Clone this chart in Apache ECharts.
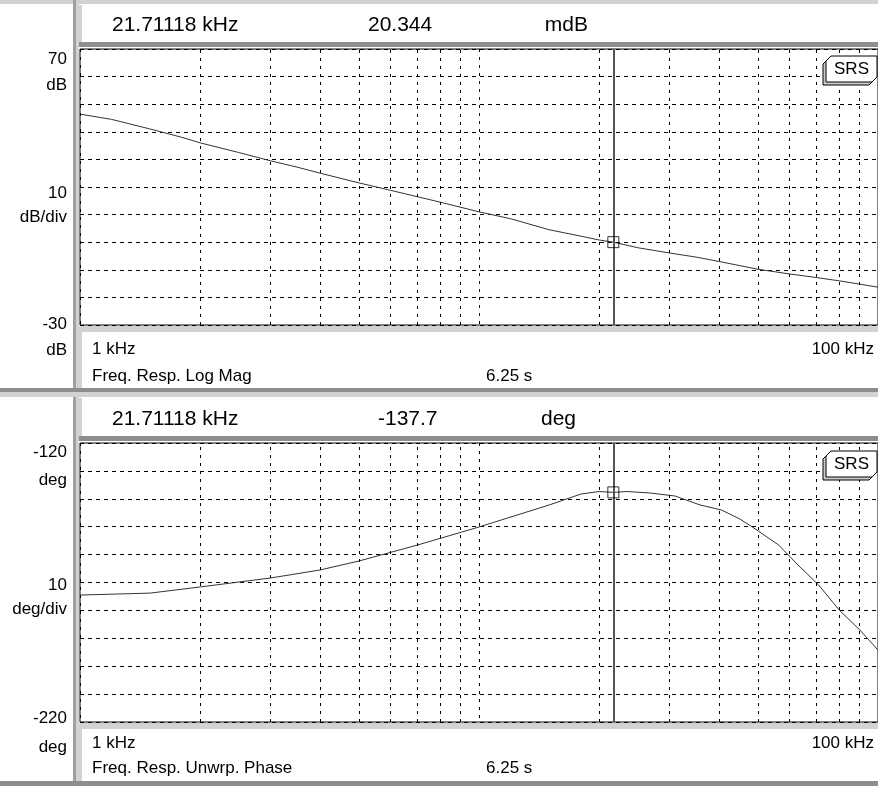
<!DOCTYPE html>
<html>
<head>
<meta charset="utf-8">
<script src="https://cdn.jsdelivr.net/npm/echarts@6/dist/echarts.min.js"></script>
<style>
html, body { margin: 0; padding: 0; background: #fff; }
#chart { width: 878px; height: 786px; }
</style>
</head>
<body>
<div id="chart"></div>
<script>
// magnitude trace (kHz, dB)
var magFreq = [1, 1.2, 1.5, 1.8, 2, 2.5, 3, 3.5, 4, 5, 6, 7, 8, 10, 12, 15, 18, 20, 21.71118, 25, 30, 35, 40, 50, 60, 70, 80, 90, 100]
var magDb = [46.4, 44.5, 41.0, 38.0, 36.0, 32.5, 29.5, 27.2, 25.0, 21.5, 18.8, 16.5, 14.5, 11.0, 8.5, 4.5, 2.2, 0.8, 0.020344, -2.0, -3.9, -5.4, -7.0, -9.8, -11.5, -12.8, -14.0, -15.2, -16.3]

// unwrapped phase trace (kHz, deg)
var phaseFreq = [1, 1.5, 2, 3, 4, 5, 7, 10, 15, 18, 20, 21.71118, 23.5, 26.8, 31, 35.8, 40.5, 45, 48.9, 56.4, 63, 71, 80, 90, 100]
var phaseDeg = [-174.5, -173.8, -171.6, -168.4, -165.5, -162.3, -156.6, -150.1, -142.2, -138.3, -137.4, -137.7, -137.4, -137.9, -139.0, -142.2, -144.0, -147.2, -150.5, -156.6, -163.7, -170.9, -179.9, -187.0, -194.2]

// log grid lines between decades
var minorFreq = [2, 3, 4, 5, 6, 7, 8, 9, 20, 30, 40, 50, 60, 70, 80, 90]

var cursorFreq = 21.71118
var cursorMag = 0.020344
var cursorPhase = -137.7

var FONT = 'Liberation Sans, Arial, sans-serif'

function pairs(xs, ys) {
  return xs.map(function (x, i) { return [x, ys[i]] })
}

function gridMarks() {
  var list = minorFreq.map(function (f) {
    return { xAxis: f }
  })
  list.push({ xAxis: cursorFreq, lineStyle: { type: 'solid', color: '#555', width: 2 } })
  return {
    silent: true,
    symbol: 'none',
    animation: false,
    label: { show: false },
    lineStyle: { type: [3, 5], color: '#000', width: 1 },
    data: list
  }
}

function xAxisOf(idx) {
  return {
    gridIndex: idx,
    type: 'log',
    logBase: 10,
    min: 1,
    max: 100,
    axisLine: { show: false },
    axisTick: { show: false },
    axisLabel: { show: false },
    splitLine: { show: true, lineStyle: { type: [3, 5], color: '#000', width: 1 } }
  }
}

function yAxisOf(idx, min, max) {
  return {
    gridIndex: idx,
    type: 'value',
    min: min,
    max: max,
    interval: 10,
    axisLine: { show: false },
    axisTick: { show: false },
    axisLabel: { show: false },
    splitLine: { show: true, lineStyle: { type: [4, 4], color: '#000', width: 1 } }
  }
}

function txt(x, y, s, size, align) {
  return {
    type: 'text',
    x: x,
    y: y,
    z: 10,
    style: {
      text: s,
      font: size + 'px ' + FONT,
      fill: '#000',
      align: align || 'left',
      textAlign: align || 'left',
      verticalAlign: 'middle',
      textVerticalAlign: 'middle'
    }
  }
}

function box(x, y, w, h, color) {
  return { type: 'rect', z: 5, shape: { x: x, y: y, width: w, height: h }, style: { fill: color } }
}

function logo(top) {
  var l = 826, r = 877, b = top + 26, c = 5
  var pts = [[l + c, top], [r, top], [r, b - c], [r - c, b], [l, b], [l, top + c]]
  var shadow = pts.map(function (p) { return [p[0] - 3, p[1] + 3] })
  return [
    { type: 'polygon', z: 20, shape: { points: shadow }, style: { fill: '#ccc', stroke: '#000', lineWidth: 1 } },
    { type: 'polygon', z: 21, shape: { points: pts }, style: { fill: '#fff', stroke: '#000', lineWidth: 1 } },
    { type: 'text', z: 22, x: (l + r) / 2, y: top + 13, style: { text: 'SRS', font: '17px ' + FONT, fill: '#000', align: 'center', textAlign: 'center', verticalAlign: 'middle', textVerticalAlign: 'middle' } }
  ]
}

var LIGHT = '#d2d2d2'
var DARK = '#8e8e8e'

var frame = [
  // outer bevels
  box(0, 0, 878, 4, LIGHT),
  box(73, 0, 3, 786, '#a0a0a0'),
  box(76, 0, 3, 786, LIGHT),
  // top panel header / footer
  box(79, 5, 3, 38, LIGHT),
  box(79, 42, 799, 5, DARK),
  box(79, 326, 799, 6, LIGHT),
  box(79, 332, 3, 56, LIGHT),
  // panel separator
  box(0, 388, 878, 4, DARK),
  box(0, 392, 878, 5, LIGHT),
  // bottom panel header / footer
  box(79, 398, 3, 38, LIGHT),
  box(79, 436, 799, 5, DARK),
  box(79, 723, 799, 6, LIGHT),
  box(79, 729, 3, 52, LIGHT),
  box(0, 781, 878, 5, DARK)
]

var labels = [
  // left scale labels
  txt(67, 59, '70', 17, 'right'),
  txt(67, 85, 'dB', 17, 'right'),
  txt(67, 193, '10', 17, 'right'),
  txt(67, 217, 'dB/div', 17, 'right'),
  txt(67, 324, '-30', 17, 'right'),
  txt(67, 350, 'dB', 17, 'right'),
  txt(67, 452, '-120', 17, 'right'),
  txt(67, 480, 'deg', 17, 'right'),
  txt(67, 585, '10', 17, 'right'),
  txt(67, 609, 'deg/div', 17, 'right'),
  txt(67, 718, '-220', 17, 'right'),
  txt(67, 747, 'deg', 17, 'right'),
  // headers
  txt(112, 25, '21.71118 kHz', 21),
  txt(368, 25, '20.344', 21),
  txt(588, 25, 'mdB', 21, 'right'),
  txt(112, 419, '21.71118 kHz', 21),
  txt(378, 419, '-137.7', 21),
  txt(541, 419, 'deg', 21),
  // footers
  txt(92, 349, '1 kHz', 17),
  txt(874, 349, '100 kHz', 17, 'right'),
  txt(92, 376, 'Freq. Resp. Log Mag', 17),
  txt(486, 376, '6.25 s', 17),
  txt(92, 743, '1 kHz', 17),
  txt(874, 743, '100 kHz', 17, 'right'),
  txt(92, 768, 'Freq. Resp. Unwrp. Phase', 17),
  txt(486, 768, '6.25 s', 17)
]

var chart = echarts.init(document.getElementById('chart'), null, { renderer: 'canvas' })
chart.setOption({
  animation: false,
  backgroundColor: '#fff',
  grid: [
    { left: 80, top: 49, width: 800, height: 276, show: true, borderColor: '#000', borderWidth: 1, backgroundColor: '#fff' },
    { left: 80, top: 443, width: 800, height: 279, show: true, borderColor: '#000', borderWidth: 1, backgroundColor: '#fff' }
  ],
  xAxis: [xAxisOf(0), xAxisOf(1)],
  yAxis: [yAxisOf(0, -30, 70), yAxisOf(1, -220, -120)],
  graphic: frame.concat(labels, logo(56), logo(451)),
  series: [
    {
      name: 'Log Mag',
      type: 'line',
      xAxisIndex: 0,
      yAxisIndex: 0,
      data: pairs(magFreq, magDb),
      symbol: 'none',
      lineStyle: { color: '#333', width: 1 },
      markLine: gridMarks()
    },
    {
      name: 'Unwrp. Phase',
      type: 'line',
      xAxisIndex: 1,
      yAxisIndex: 1,
      data: pairs(phaseFreq, phaseDeg),
      symbol: 'none',
      lineStyle: { color: '#333', width: 1 },
      markLine: gridMarks()
    },
    {
      type: 'scatter',
      xAxisIndex: 0,
      yAxisIndex: 0,
      data: [[cursorFreq, cursorMag]],
      symbol: 'rect',
      symbolSize: 11,
      itemStyle: { color: 'rgba(0,0,0,0)', borderColor: '#000', borderWidth: 1 },
      z: 5
    },
    {
      type: 'scatter',
      xAxisIndex: 1,
      yAxisIndex: 1,
      data: [[cursorFreq, cursorPhase]],
      symbol: 'rect',
      symbolSize: 11,
      itemStyle: { color: 'rgba(0,0,0,0)', borderColor: '#000', borderWidth: 1 },
      z: 5
    }
  ]
})
</script>
</body>
</html>
